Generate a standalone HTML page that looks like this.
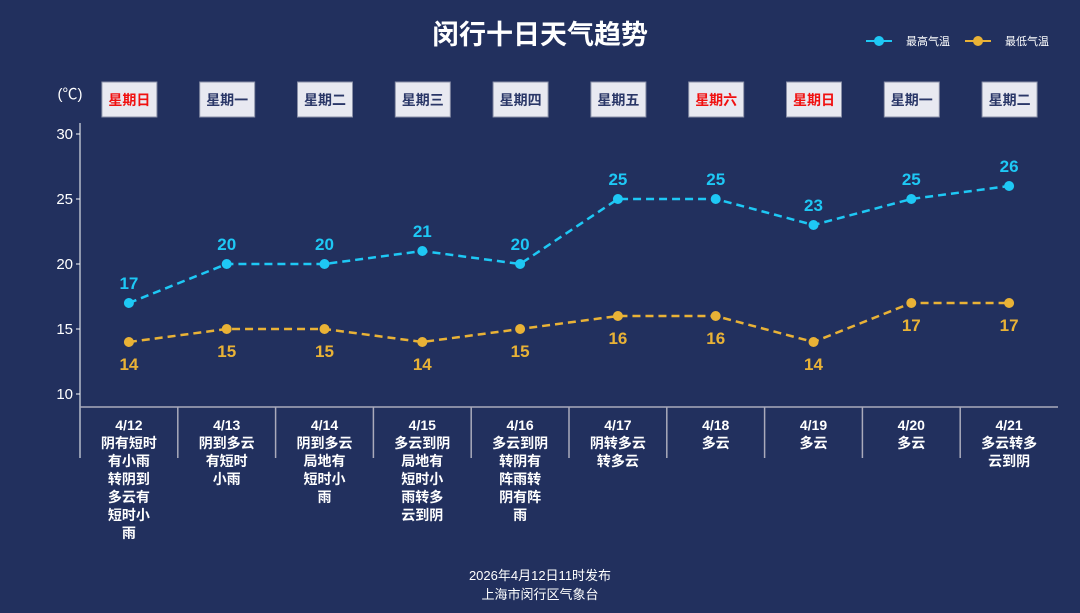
<!DOCTYPE html>
<html><head><meta charset="utf-8">
<style>
body{margin:0;background:#22305e;}
svg{display:block;font-family:"Liberation Sans","Noto Sans CJK SC",sans-serif;}
</style></head><body>
<svg id="c" width="1080" height="613">
<rect width="1080" height="613" fill="#22305e"/>
<text x="540" y="44" text-anchor="middle" fill="#fff" font-size="27" font-weight="bold">闵行十日天气趋势</text>
<g><line x1="866" y1="41" x2="892" y2="41" stroke="#1ec8f5" stroke-width="2"/><circle cx="879" cy="41" r="5" fill="#1ec8f5"/><text x="906" y="45" fill="#fff" font-size="11">最高气温</text></g>
<g><line x1="965" y1="41" x2="991" y2="41" stroke="#e9b236" stroke-width="2"/><circle cx="978" cy="41" r="5" fill="#e9b236"/><text x="1005" y="45" fill="#fff" font-size="11">最低气温</text></g>
<text x="70" y="99" text-anchor="middle" fill="#fff" font-size="15">(℃)</text>
<g id="g"></g>
<text x="540" y="580" text-anchor="middle" fill="#fff" font-size="13">2026年4月12日11时发布</text>
<text x="540" y="599" text-anchor="middle" fill="#fff" font-size="13">上海市闵行区气象台</text>
</svg>
<script>
const dates=["4/12","4/13","4/14","4/15","4/16","4/17","4/18","4/19","4/20","4/21"];
const weekdays=["星期日","星期一","星期二","星期三","星期四","星期五","星期六","星期日","星期一","星期二"];
const weather=[["阴有短时","有小雨","转阴到","多云有","短时小","雨"],["阴到多云","有短时","小雨"],["阴到多云","局地有","短时小","雨"],["多云到阴","局地有","短时小","雨转多","云到阴"],["多云到阴","转阴有","阵雨转","阴有阵","雨"],["阴转多云","转多云"],["多云"],["多云"],["多云"],["多云转多","云到阴"]];
const highs=[17,20,20,21,20,25,25,23,25,26];
const lows=[14,15,15,14,15,16,16,14,17,17];
const yTicks=[10,15,20,25,30];
const NS="http://www.w3.org/2000/svg";
const g=document.getElementById('g');
const x0=80,x1=1058,bw=(x1-x0)/dates.length;
const X=i=>x0+bw*(i+0.5);
const Y=v=>134+(30-v)*13;
function mk(t,a,p){const e=document.createElementNS(NS,t);for(const k in a)e.setAttribute(k,a[k]);(p||g).appendChild(e);return e;}
let e;
e=mk('line',{x1:x0,y1:123,x2:x0,y2:458,stroke:'#fff','stroke-width':1});


e=mk('line',{x1:x0,y1:407,x2:x1,y2:407,stroke:'#aab','stroke-width':1.5});


yTicks.forEach(v=>{
 mk('line',{x1:x0-4,y1:Y(v),x2:x0,y2:Y(v),stroke:'#fff'});
 e=mk('text',{x:x0-7,y:Y(v)+5,'text-anchor':'end',fill:'#fff','font-size':15});e.textContent=v;
 
 
});
dates.forEach((d,i)=>{
 if(i>0){mk('line',{x1:x0+bw*i,y1:407,x2:x0+bw*i,y2:458,stroke:'#aab','stroke-width':1.5});}
 const cx=X(i);
 const red=weekdays[i]==="星期日"||weekdays[i]==="星期六";
 e=mk('rect',{x:cx-27,y:82,width:55,height:35,fill:'#e8e9f1',stroke:'#8a90a8'});
 
 
 e=mk('text',{x:cx+0.5,y:105,'text-anchor':'middle',fill:red?'#f01010':'#2a3768','font-size':14,'font-weight':'bold'});e.textContent=weekdays[i];
 
 
 const lines=[d].concat(weather[i]);
 lines.forEach((l,j)=>{e=mk('text',{x:cx,y:430+j*18,'text-anchor':'middle',fill:'#fff','font-size':14,'font-weight':'bold'});e.textContent=l;
 
 });
});
function series(vals,color,name,above){
 e=mk('polyline',{points:vals.map((v,i)=>X(i)+','+Y(v)).join(' '),fill:'none',stroke:color,'stroke-width':2.5,'stroke-dasharray':'8,5'});
 
 
 vals.forEach((v,i)=>{
  e=mk('circle',{cx:X(i),cy:Y(v),r:5,fill:color});
  
  
  e=mk('text',{x:X(i),y:above?Y(v)-14:Y(v)+28,'text-anchor':'middle',fill:color,'font-size':17,'font-weight':'bold'});e.textContent=v;
  
  
 });
}
series(highs,'#1ec8f5','high-temp',true);
series(lows,'#e9b236','low-temp',false);
</script>
</body></html>
